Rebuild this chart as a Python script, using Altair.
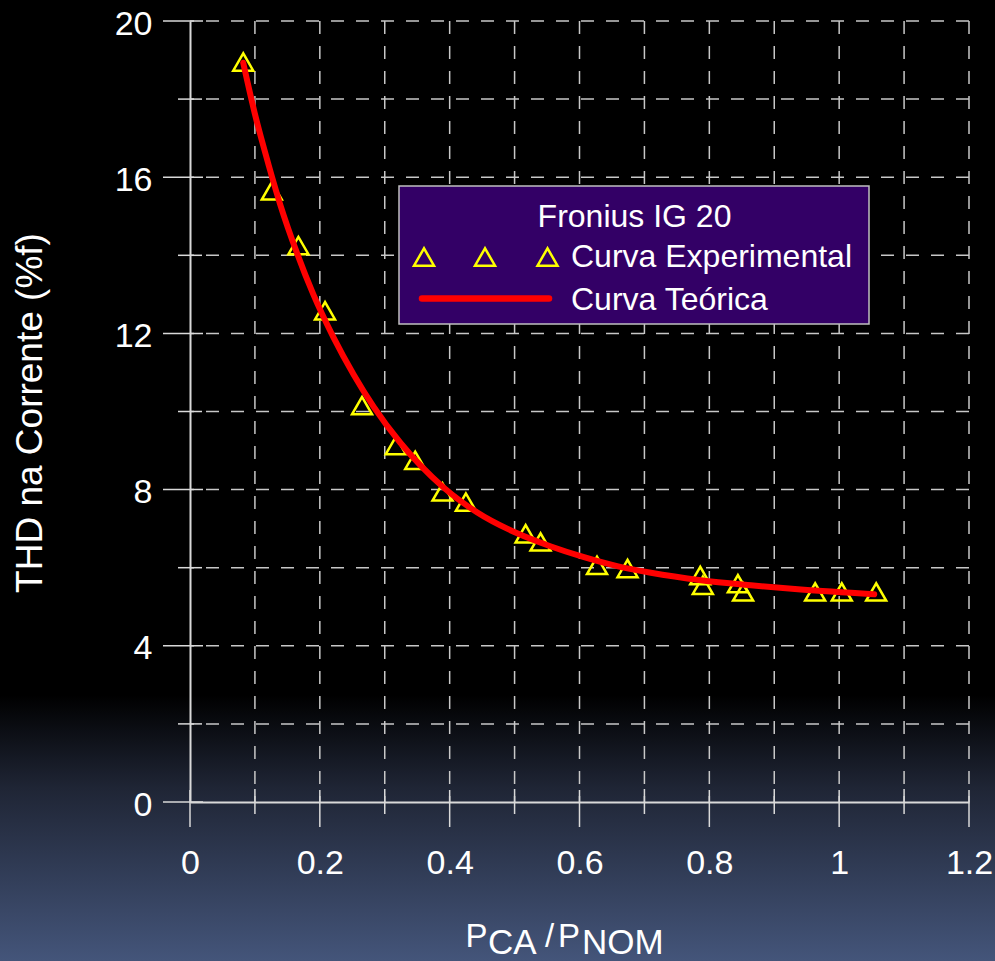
import altair as alt
import pandas as pd

# ---------------- data ----------------
exp_x = [0.082, 0.126, 0.167, 0.208, 0.265, 0.317, 0.347, 0.389, 0.425, 0.517,
         0.540, 0.627, 0.674, 0.786, 0.790, 0.844, 0.852, 0.963, 1.004, 1.057]
exp_y = [18.95, 15.65, 14.25, 12.58, 10.15, 9.13, 8.75, 7.94, 7.68, 6.87,
         6.66, 6.06, 5.98, 5.80, 5.55, 5.59, 5.38, 5.38, 5.38, 5.38]

theo_x = [0.082, 0.100, 0.121, 0.139, 0.165, 0.190, 0.221, 0.252, 0.283, 0.324,
          0.355, 0.391, 0.442, 0.504, 0.555, 0.607, 0.658, 0.710, 0.787, 0.864,
          0.941, 1.054]
theo_y = [18.93, 17.62, 16.32, 15.30, 14.05, 13.00, 11.90, 10.95, 10.12, 9.20,
          8.62, 8.05, 7.42, 6.88, 6.55, 6.27, 6.04, 5.87, 5.68, 5.55,
          5.44, 5.32]

x_ticks = [0, 0.2, 0.4, 0.6, 0.8, 1, 1.2]
x_minor = [0.1, 0.3, 0.5, 0.7, 0.9, 1.1]
y_ticks = [0, 4, 8, 12, 16, 20]
y_minor = [2, 6, 10, 14, 18]
x_grid = [0.1, 0.2, 0.3, 0.4, 0.5, 0.6, 0.7, 0.8, 0.9, 1.0, 1.1, 1.2]
y_grid = [2, 4, 6, 8, 10, 12, 14, 16, 18, 20]

legend_title = "Fronius IG 20"
series_names = ["Curva Experimental", "Curva Teórica"]
x_title_parts = ["P", "CA", "/", "P", "NOM"]
y_title = "THD na Corrente (%f)"

# ---------------- styling ----------------
W, H = 779, 781
FONT = "Liberation Sans"
GRID_COLOR = "#c8c8c8"
AXIS_COLOR = "#d9d9d9"
YELLOW = "#ffff00"
RED = "#ff0000"

xs = alt.Scale(domain=[0, 1.2], nice=False, zero=False)
ys = alt.Scale(domain=[0, 20], nice=False, zero=False)

x_axis = alt.Axis(values=x_ticks, format="~g", title=None, grid=False, ticks=False,
                  tickSize=0, domainColor=AXIS_COLOR, domainWidth=2,
                  labelColor="white", labelFont=FONT, labelFontSize=34,
                  labelPadding=44, labelFlush=False, labelOverlap=False, zindex=1)
y_axis = alt.Axis(values=y_ticks, format="~g", title=None, grid=False, ticks=False,
                  tickSize=0, domainColor=AXIS_COLOR, domainWidth=2,
                  labelColor="white", labelFont=FONT, labelFontSize=34,
                  labelPadding=38, labelOffset=3, labelOverlap=False, zindex=1)


def X():
    return alt.X("x:Q", scale=xs, axis=x_axis)


def Y():
    return alt.Y("y:Q", scale=ys, axis=y_axis)


exp_df = pd.DataFrame({"x": exp_x, "y": exp_y})
theo_df = pd.DataFrame({"x": theo_x, "y": theo_y})
one = pd.DataFrame({"k": [0]})

layers = []

# background gradient (bottom of the page)
grad = alt.Gradient(
    gradient="linear",
    stops=[alt.GradientStop(color="#000000", offset=0),
           alt.GradientStop(color="#1f2535", offset=0.35),
           alt.GradientStop(color="#44557a", offset=1)],
    x1=0, x2=0, y1=0, y2=1,
)
layers.append(alt.Chart(one).mark_rect(fill=grad).encode(
    x=alt.value(-190), x2=alt.value(805), y=alt.value(674), y2=alt.value(940)))

# grid lines
layers.append(alt.Chart(pd.DataFrame({"x": x_grid})).mark_rule(
    color=GRID_COLOR, strokeWidth=1.5, strokeDash=[13, 12]).encode(x=X()))
layers.append(alt.Chart(pd.DataFrame({"y": y_grid})).mark_rule(
    color=GRID_COLOR, strokeWidth=1.5, strokeDash=[13, 12]).encode(y=Y()))

# ticks (crossing the axis lines)
layers.append(alt.Chart(pd.DataFrame({"x": x_ticks})).mark_rule(
    color=AXIS_COLOR, strokeWidth=1.5).encode(
    x=X(), y=alt.value(769), y2=alt.value(806)))
layers.append(alt.Chart(pd.DataFrame({"x": x_minor})).mark_rule(
    color=AXIS_COLOR, strokeWidth=1.5).encode(
    x=X(), y=alt.value(768), y2=alt.value(793)))
layers.append(alt.Chart(pd.DataFrame({"y": y_ticks})).mark_rule(
    color=AXIS_COLOR, strokeWidth=1.5).encode(
    y=Y(), x=alt.value(-27), x2=alt.value(13)))
layers.append(alt.Chart(pd.DataFrame({"y": y_minor})).mark_rule(
    color=AXIS_COLOR, strokeWidth=1.5).encode(
    y=Y(), x=alt.value(-12), x2=alt.value(12)))

# experimental points
layers.append(alt.Chart(exp_df).mark_point(
    shape="triangle-up", size=400, filled=False, color=YELLOW,
    strokeWidth=2.5, opacity=1).encode(x=X(), y=Y()))

# theoretical curve
layers.append(alt.Chart(theo_df).mark_line(
    color=RED, strokeWidth=6, strokeCap="round", interpolate="monotone").encode(
    x=X(), y=Y()))

# legend box
layers.append(alt.Chart(one).mark_rect(
    fill="#330066", stroke="#c0c0c0", strokeWidth=1.5).encode(
    x=alt.value(209), x2=alt.value(679), y=alt.value(165), y2=alt.value(303)))
layers.append(alt.Chart(pd.DataFrame({"t": [legend_title]})).mark_text(
    font=FONT, fontSize=32, color="white", align="center", baseline="alphabetic").encode(
    text="t:N", x=alt.value(444.5), y=alt.value(206)))
for px in [234, 295, 357.5]:
    layers.append(alt.Chart(one).mark_point(
        shape="triangle-up", size=400, filled=False, color=YELLOW,
        strokeWidth=2.5, opacity=1).encode(x=alt.value(px), y=alt.value(236)))
layers.append(alt.Chart(one).mark_rule(
    color=RED, strokeWidth=6.5, strokeCap="round").encode(
    x=alt.value(232), x2=alt.value(359), y=alt.value(277.5)))
layers.append(alt.Chart(pd.DataFrame({"t": [series_names[0]]})).mark_text(
    font=FONT, fontSize=32, color="white", align="left", baseline="alphabetic").encode(
    text="t:N", x=alt.value(381), y=alt.value(246)))
layers.append(alt.Chart(pd.DataFrame({"t": [series_names[1]]})).mark_text(
    font=FONT, fontSize=32, color="white", align="left", baseline="alphabetic").encode(
    text="t:N", x=alt.value(381), y=alt.value(289)))

# y axis title
layers.append(alt.Chart(pd.DataFrame({"t": [y_title]})).mark_text(
    font=FONT, fontSize=37, color="white", align="center", baseline="middle",
    angle=270).encode(text="t:N", x=alt.value(-159), y=alt.value(392)))

# x axis title with subscripts
title_specs = [(275.5, 925.5, 33), (298, 932.5, 35), (355, 925.5, 33),
               (368, 925.5, 33), (392, 932.5, 35)]
for part, (px, py, fs) in zip(x_title_parts, title_specs):
    layers.append(alt.Chart(pd.DataFrame({"t": [part]})).mark_text(
        font=FONT, fontSize=fs, color="white", align="left", baseline="alphabetic").encode(
        text="t:N", x=alt.value(px), y=alt.value(py)))

chart = alt.layer(*layers).properties(
    width=W, height=H,
    autosize=alt.AutoSizeParams(type="none"),
    padding={"left": 190, "top": 21, "right": 26, "bottom": 159},
    background="black",
).configure_view(stroke=None)

chart.save("out.html", embed_options={"renderer": "svg", "actions": False})
